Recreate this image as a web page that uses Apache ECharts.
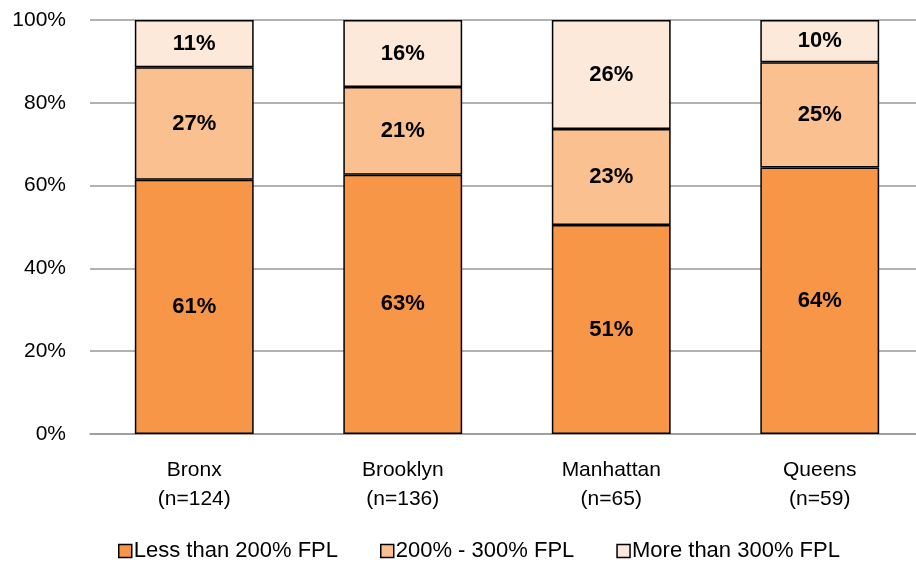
<!DOCTYPE html>
<html>
<head>
<meta charset="utf-8">
<script src="https://cdn.jsdelivr.net/npm/echarts@6/dist/echarts.min.js"></script>
<style>
  html, body { margin: 0; padding: 0; background: #fff; overflow: hidden; }
  #main { width: 924px; height: 565px; }
</style>
</head>
<body>
<div id="main"></div>
<script>
// boroughs and sample sizes
var categories = ['Bronx\n(n=124)', 'Brooklyn\n(n=136)', 'Manhattan\n(n=65)', 'Queens\n(n=59)']
// shares by income group (percent)
var lessThan200 = [61.4, 62.6, 50.5, 64.4]
var from200to300 = [27.2, 21.2, 23.2, 25.4]
var moreThan300 = [11.4, 16.2, 26.3, 10.2]
var seriesNames = ['Less than 200% FPL', '200% - 300% FPL', 'More than 300% FPL']
var colors = ['#F79646', '#FAC090', '#FDE9D9']

var font = '"Liberation Sans Narrow", "Arial Narrow", "Liberation Sans", sans-serif'

function makeSeries(name, data, color) {
  return {
    name: name,
    type: 'bar',
    stack: 'total',
    data: data,
    barWidth: '57%',
    itemStyle: { color: color, borderColor: '#000', borderWidth: 1.5 },
    label: {
      show: true,
      position: 'inside',
      formatter: function(p) { return Math.round(p.value) + '%' },
      color: '#000',
      fontFamily: font,
      fontWeight: 'bold',
      fontSize: 22
    }
  }
}

// chart div is slightly wider than the window so the last category runs off the right edge
var chart = echarts.init(document.getElementById('main'))
chart.setOption({
  animation: false,
  color: colors,
  grid: { left: 90, top: 20, right: 0, bottom: 131, containLabel: false },
  legend: {
    bottom: -2,
    left: 113,
    itemWidth: 13,
    itemHeight: 13,
    itemGap: 42,
    icon: 'rect',
    itemStyle: { borderColor: '#000', borderWidth: 1.5 },
    textStyle: { fontFamily: font, fontSize: 22, color: '#000', padding: [0, 0, 0, -3] },
    data: seriesNames
  },
  xAxis: {
    type: 'category',
    data: categories,
    axisTick: { show: false },
    axisLine: { lineStyle: { color: '#999', width: 1.5 } },
    axisLabel: {
      fontFamily: font,
      fontSize: 21,
      color: '#000',
      lineHeight: 29,
      margin: 22
    }
  },
  yAxis: {
    type: 'value',
    min: 0,
    max: 100,
    interval: 20,
    axisLine: { show: false },
    axisTick: { show: false },
    splitLine: { lineStyle: { color: '#999', width: 1.5 } },
    axisLabel: {
      formatter: '{value}%',
      fontFamily: font,
      fontSize: 21,
      color: '#000',
      margin: 24
    }
  },
  series: [
    makeSeries(seriesNames[0], lessThan200, colors[0]),
    makeSeries(seriesNames[1], from200to300, colors[1]),
    makeSeries(seriesNames[2], moreThan300, colors[2])
  ]
})
</script>
</body>
</html>
